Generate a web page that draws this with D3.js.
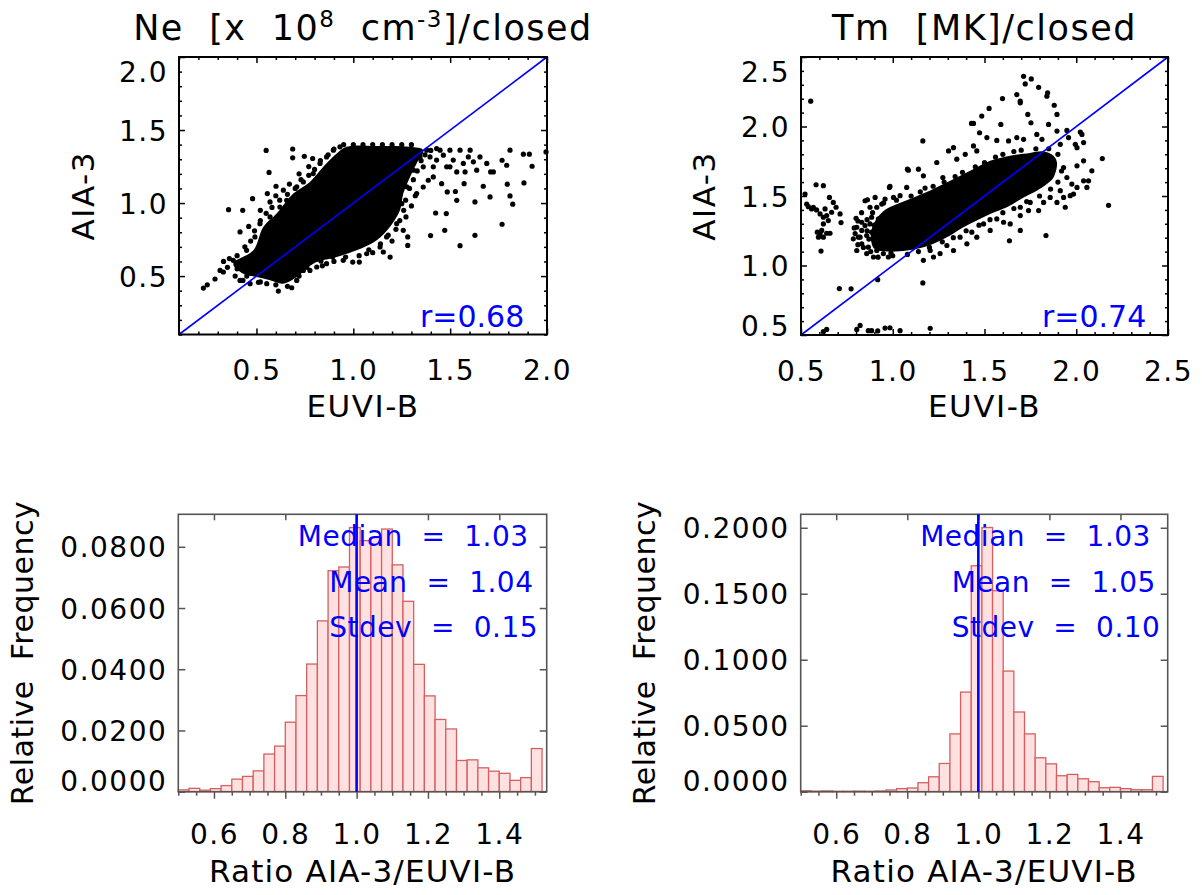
<!DOCTYPE html>
<html lang="en">
<head>
<meta charset="UTF-8">
<title>AIA-3 vs EUVI-B</title>
<script src="https://d3js.org/d3.v7.min.js"></script>
<style>
  body { margin: 0; background: #fff; }
  text { font-family: "DejaVu Sans", sans-serif; white-space: pre; }
</style>
</head>
<body>
<script>
// ---- data ----
// dense core of the Ne cloud (outline), EUVI-B vs AIA-3
const neCore = [[0.380,0.585],[0.484,0.676],[0.535,0.836],[0.604,0.928],[0.690,1.065],[0.776,1.145],[0.845,1.248],[0.914,1.339],[0.966,1.385],[1.121,1.390],[1.293,1.385],[1.361,1.362],[1.327,1.271],[1.293,1.179],[1.258,1.065],[1.241,0.950],[1.189,0.836],[1.121,0.745],[1.017,0.676],[0.914,0.630],[0.793,0.585],[0.708,0.493],[0.638,0.448],[0.570,0.471],[0.501,0.493],[0.432,0.516]];
// single points around it
const neDots = [[0.55,1.36],[0.687,1.37],[0.687,1.31],[0.747,1.32],[0.79,1.305],[0.565,1.21],[0.356,0.955],[0.429,0.95],[0.415,0.802],[0.556,1.065],[0.57,1.008],[0.601,1.115],[0.639,1.088],[0.48,1.03],
  [0.226,0.418],[0.246,0.44],[0.286,0.48],[0.312,0.539],[0.329,0.528],[0.38,0.608],[0.415,0.47],[0.467,0.448],[0.51,0.457],[0.553,0.448],[0.613,0.397],[0.682,0.42],[0.708,0.47],[0.776,0.539],[0.833,0.603],[0.893,0.63],[0.997,0.596],[1.031,0.596],[1.155,0.665],[1.19,0.63],[1.258,0.813],[1.281,0.768],[1.281,0.71],[1.272,0.905],[1.327,1.065],[1.361,1.11],
  [1.399,0.777],[1.425,0.932],[1.472,0.813],[1.48,0.928],[1.485,1.076],[1.527,1.079],[1.534,1.019],[1.551,0.708],[1.572,1.133],[1.628,0.779],[1.628,1.008],[1.671,1.115],[1.706,1.042],[1.709,1.213],[1.723,1.213],[1.768,0.855],[1.768,1.293],[1.792,1.259],[1.795,1.129],[1.809,1.049],[1.823,0.992],[1.809,1.362],[1.878,1.335],[1.909,1.335],[1.923,1.252],[1.881,1.138],[1.995,1.35],
  [1.413,1.179],[1.43,1.294],[1.448,1.362],[1.482,1.248],[1.516,1.294],[1.551,1.362],[1.568,1.271],[1.603,1.362],[1.62,1.282],[1.637,1.225],[1.654,1.316],[1.534,1.213],[1.577,1.213],[1.594,1.316],[1.396,1.316],[1.413,1.248],[1.465,1.328],[1.456,1.133],[1.499,1.248],[1.689,1.271],[1.379,1.362],[1.43,1.373],[1.499,1.362],[1.361,1.248],[1.387,1.156],
  [0.449,0.676],[0.492,0.768],[0.518,0.859],[0.57,0.905],[0.621,0.973],[0.656,1.019],[0.708,1.111],[0.742,1.145],[0.793,1.202],[0.828,1.271],[0.862,1.316],[0.897,1.362],[0.931,1.385],
  [0.742,0.539],[0.811,0.562],[0.862,0.585],[0.948,0.608],[1.069,0.653],[1.138,0.699],[1.172,0.768],[1.224,0.859],[1.25,0.996],[1.276,1.111],[1.31,1.225],[1.344,1.316],
  [0.40,0.64],[0.44,0.70],[0.47,0.74],[0.49,0.81],[0.52,0.88],[0.55,0.93],[0.58,0.97],[0.62,1.02],[0.66,1.06],[0.70,1.10],[0.73,1.16],[0.77,1.19],[0.80,1.23],[0.83,1.29],[0.87,1.33],[0.90,1.37],[0.95,1.40],[1.00,1.40],[1.05,1.40],[1.10,1.40],[1.15,1.40],[1.20,1.40],[1.25,1.40],[1.30,1.40],[0.60,1.05],[0.67,1.13],[0.72,1.20],[0.77,1.25],[0.52,0.95],[0.46,0.84],
  [0.40,0.55],[0.45,0.50],[0.52,0.46],[0.60,0.44],[0.66,0.43],[0.72,0.50],[0.76,0.56],[0.84,0.57],[0.90,0.60],[0.96,0.63],[1.03,0.64],[1.08,0.68],[1.14,0.72],[1.18,0.78],[1.22,0.82],[1.24,0.88],[1.26,0.95],[1.27,1.02],[1.29,1.10],[1.31,1.16],[1.33,1.22],[1.35,1.29],[1.37,1.33],[1.40,1.36],[1.10,0.66],[1.20,0.74],[1.30,0.98],[1.32,1.05],
  [0.35,0.56],[0.33,0.60],[0.36,0.62],[0.42,0.60],[0.39,0.50],[0.43,0.47]];

// dense core of the Tm cloud
const tmCore = [[0.90,1.12],[0.88,1.22],[0.90,1.31],[0.94,1.38],[0.985,1.42],[1.076,1.47],[1.204,1.54],[1.313,1.609],[1.422,1.681],[1.531,1.753],[1.640,1.790],[1.749,1.810],[1.822,1.820],[1.876,1.790],[1.895,1.740],[1.876,1.633],[1.840,1.586],[1.785,1.538],[1.713,1.490],[1.622,1.419],[1.531,1.371],[1.458,1.323],[1.385,1.275],[1.313,1.216],[1.240,1.168],[1.167,1.132],[1.076,1.108],[0.98,1.10]];
const tmDots = [[0.522,1.514],[0.531,1.442],[0.54,1.423],[0.558,1.407],[0.582,1.581],[0.622,1.574],[0.585,1.4],[0.604,1.371],[0.622,1.347],[0.64,1.359],[0.655,1.49],[0.676,1.454],[0.691,1.419],[0.713,1.371],[0.718,1.309],[0.589,1.24],[0.604,1.228],[0.622,1.204],[0.64,1.232],[0.658,1.232],[0.613,1.252],[0.595,1.204],[0.622,1.299],[0.649,1.323],[0.609,1.104],[0.553,2.182],[0.567,1.419],[0.631,1.407],[0.667,1.383],
  [0.918,0.898],[0.709,0.834],[0.773,0.832],[1.164,0.875],[0.64,0.54],[0.622,0.524],[0.822,0.569],[0.867,0.531],[0.885,0.531],[0.918,0.529],[0.958,0.55],[0.985,0.552],[1.04,0.531],[1.204,0.548],[0.804,0.54],
  [0.804,1.275],[0.813,1.204],[0.831,1.311],[0.849,1.466],[0.867,1.132],[0.876,1.419],[0.885,1.24],[0.904,1.49],[0.913,1.108],[0.922,1.335],[0.931,1.168],[0.949,1.085],[0.985,1.569],[0.976,1.061],[0.831,1.156],[0.858,1.085],[0.895,1.061],[0.804,1.108],[0.822,1.204],[0.785,1.192],[0.849,1.287],[0.885,1.347],[0.913,1.419],[0.94,1.442],[0.958,1.478],[1.004,1.49],[1.04,1.502],[1.076,1.562],[1.085,1.686],[1.14,1.693],[1.167,1.645],[1.067,1.428],[1.022,1.395],[0.876,1.299],[0.831,1.252],[0.858,1.216],[0.904,1.156],[0.94,1.275],
  [0.795,1.23],[0.81,1.15],[0.84,1.13],[0.87,1.19],[0.9,1.21],[0.92,1.26],[0.86,1.33],[0.83,1.38],[0.81,1.32],[0.89,1.38],[0.95,1.31],[0.97,1.2],[0.95,1.13],[0.99,1.09],[0.88,1.1],[0.79,1.27],[0.8,1.34],[0.86,1.25],[0.9,1.29],[0.93,1.22],
  [1.713,2.361],[1.755,2.342],[1.722,2.306],[1.795,2.282],[1.844,2.242],[1.84,2.218],[1.676,2.23],[1.695,2.182],[1.695,2.17],[1.598,2.201],[1.88,2.153],[1.485,2.075],[1.525,2.13],[1.429,2.022],[1.44,2.022],[1.589,2.015],[1.473,1.955],[1.567,1.9],[1.736,2.087],[1.895,2.087],[1.753,2.027],[1.849,2.015],[1.949,1.972],[2.022,1.96],[2.031,1.943],[1.895,1.967],[1.958,1.92],[1.913,1.872],[1.995,1.872],[2.04,1.884],[2.004,1.848],[2.04,1.753],[2.004,1.717],[2.085,1.681],[2.142,1.769],[2.176,1.433],[1.513,1.92],[1.631,1.896],[1.676,1.92],[1.713,1.908],[1.785,1.943],[1.813,1.908],[1.395,1.8],[1.458,1.824],[1.349,1.765],[1.304,1.824],[1.24,1.741],[1.331,1.848],[1.44,1.86],[1.273,1.633],[1.176,1.557],[1.08,1.693],[0.982,1.562],[0.862,1.473],[1.164,1.896],
  [1.931,1.705],[1.949,1.633],[1.976,1.586],[2.004,1.562],[2.04,1.609],[2.058,1.562],[2.067,1.609],[1.913,1.538],[1.931,1.49],[1.967,1.502],[1.985,1.514],[1.94,1.419],[1.895,1.454],[1.858,1.49],[1.795,1.395],[1.74,1.395],[1.695,1.359],[1.64,1.299],[1.604,1.311],[1.531,1.252],[1.458,1.204],[1.404,1.156],[1.331,1.108],[1.258,1.085],[1.222,1.061],[1.167,1.037],[1.204,1.108],[1.295,1.144],[1.367,1.204],[1.431,1.24],[1.495,1.299],[1.567,1.335],[1.695,1.252],[1.636,1.178],[1.835,1.216],[1.749,1.454],[1.822,1.454],[1.695,1.419],
  [0.95,1.45],[1.02,1.47],[1.10,1.50],[1.15,1.53],[1.22,1.57],[1.28,1.60],[1.34,1.64],[1.38,1.67],[1.45,1.71],[1.50,1.74],[1.56,1.78],[1.60,1.80],[1.66,1.82],[1.70,1.83],[1.78,1.84],[1.85,1.84],[1.90,1.80],
  [0.92,1.06],[1.00,1.07],[1.08,1.08],[1.14,1.10],[1.20,1.13],[1.27,1.17],[1.33,1.20],[1.40,1.25],[1.47,1.29],[1.53,1.33],[1.60,1.38],[1.66,1.41],[1.73,1.46],[1.80,1.50],[1.86,1.55],[1.90,1.60],[1.92,1.68]];

const neTicks = [0.5, 1.0, 1.5, 2.0];
const tmTicks = [0.5, 1.0, 1.5, 2.0, 2.5];
const rValues = ["r=0.68", "r=0.74"];

// histograms of the ratio AIA-3/EUVI-B
const binLeft = [0.50,0.53,0.56,0.59,0.62,0.65,0.68,0.71,0.74,0.77,0.80,0.83,0.86,0.89,0.92,0.95,0.98,1.01,1.04,1.07,1.10,1.13,1.16,1.19,1.22,1.25,1.28,1.31,1.34,1.37,1.40,1.43,1.46,1.49];
const neFreq = [0.0006,0.0011,0.0005,0.0010,0.0020,0.0041,0.0050,0.0068,0.0123,0.0149,0.0227,0.0314,0.0417,0.0558,0.0722,0.0734,0.0863,0.0820,0.0830,0.0858,0.0741,0.0622,0.0416,0.0313,0.0236,0.0205,0.0102,0.0104,0.0078,0.0067,0.0060,0.0037,0.0046,0.0141];
const tmFreq = [0.0007,0.0004,0.0006,0.0003,0.0003,0.0004,0.0003,0.0005,0.0013,0.0023,0.0028,0.0068,0.0113,0.0214,0.0438,0.0755,0.1712,0.2002,0.1523,0.0914,0.0604,0.0438,0.0257,0.0211,0.0121,0.0131,0.0098,0.0076,0.0030,0.0033,0.0023,0.0015,0.0015,0.0116];
const histXTicks = [0.6, 0.8, 1.0, 1.2, 1.4];
const neYTicks = [0, 0.02, 0.04, 0.06, 0.08];
const tmYTicks = [0, 0.05, 0.10, 0.15, 0.20];
const neStats = ["Median  =  1.03", "Mean  =  1.04", "Stdev  =  0.15"];
const tmStats = ["Median  =  1.03", "Mean  =  1.05", "Stdev  =  0.10"];
const refRatio = 1.0;

const svg = d3.select("body").append("svg")
    .attr("width", 1202)
    .attr("height", 895);

const BLUE = "#0000ff";

function styleText(sel, size, ls) {
    sel.attr("font-family", null).attr("font-size", size + "px")
       .attr("fill", "#000").style("letter-spacing", (ls || 0) + "px");
}

// one axis side, labels optional; size < 0 points into the box
function side(g, axisFn, scale, tr, values, size, color, fmt) {
    const a = axisFn(scale).tickValues(values).tickSize(size)
        .tickFormat(fmt || "");
    const ax = g.append("g").attr("transform", tr).call(a);
    ax.select(".domain").remove();
    ax.selectAll("line").attr("stroke", color).attr("stroke-width", 1.5);
    return ax;
}

function minorsOf(dom, step, majors) {
    const out = [];
    for (let v = Math.ceil(dom[0] / step - 1e-6) * step; v <= dom[1] + 1e-6; v += step) {
        if (!majors.some(m => Math.abs(m - v) < 1e-6)) out.push(+v.toFixed(3));
    }
    return out;
}

function scatterPanel(o) {
    const x = d3.scaleLinear().domain(o.dom).range([o.x0, o.x1]);
    const y = d3.scaleLinear().domain(o.dom).range([o.y1, o.y0]);
    const g = svg.append("g");

    g.append("path").datum(o.core)
        .attr("d", d3.line().x(d => x(d[0])).y(d => y(d[1])).curve(d3.curveCatmullRomClosed))
        .attr("fill", "#000");
    g.selectAll("circle").data(o.dots).join("circle")
        .attr("cx", d => x(d[0])).attr("cy", d => y(d[1]))
        .attr("r", 2.6).attr("fill", "#000");

    g.append("line")
        .attr("x1", x(o.dom[0])).attr("y1", y(o.dom[0]))
        .attr("x2", x(o.dom[1])).attr("y2", y(o.dom[1]))
        .attr("stroke", BLUE).attr("stroke-width", 1.6);

    g.append("rect").attr("x", o.x0).attr("y", o.y0)
        .attr("width", o.x1 - o.x0).attr("height", o.y1 - o.y0)
        .attr("fill", "none").attr("stroke", "#000").attr("stroke-width", 2);

    const minors = minorsOf(o.dom, 0.1, o.ticks);
    const f = d3.format(".1f");
    const bx = side(g, d3.axisBottom, x, `translate(0,${o.y1})`, o.ticks, -6, "#000", f);
    side(g, d3.axisBottom, x, `translate(0,${o.y1})`, minors, -3, "#000");
    side(g, d3.axisTop, x, `translate(0,${o.y0})`, o.ticks, -6, "#000");
    side(g, d3.axisTop, x, `translate(0,${o.y0})`, minors, -3, "#000");
    const ly = side(g, d3.axisLeft, y, `translate(${o.x0},0)`, o.ticks, -6, "#000", f);
    side(g, d3.axisLeft, y, `translate(${o.x0},0)`, minors, -3, "#000");
    side(g, d3.axisRight, y, `translate(${o.x1},0)`, o.ticks, -6, "#000");
    side(g, d3.axisRight, y, `translate(${o.x1},0)`, minors, -3, "#000");

    bx.selectAll("text").attr("y", 45.5).attr("dy", 0).call(styleText, 28, 1.5);
    ly.selectAll("text").attr("x", -11).attr("dy", "0.36em")
        .attr("y", d => d === o.dom[1] ? 14 : (d === o.dom[0] ? -10 : 0))
        .call(styleText, 28, 1.5);

    g.append("text").attr("x", o.x0 + 241).attr("y", o.y1 - 8)
        .attr("font-size", "30px").attr("fill", BLUE).text(o.r);

    // titles
    const t = g.append("text").attr("x", (o.x0 + o.x1) / 2).attr("y", 40)
        .attr("text-anchor", "middle").attr("font-size", "35px").style("letter-spacing", "1.5px");
    o.title(t);

    g.append("text").attr("x", (o.x0 + o.x1) / 2).attr("y", 417)
        .attr("text-anchor", "middle").attr("font-size", "31px").style("letter-spacing", "1.5px")
        .text("EUVI-B");
    g.append("text").attr("transform", `translate(${o.ylabX},${(o.y0 + o.y1) / 2}) rotate(-90)`)
        .attr("text-anchor", "middle").attr("font-size", "31px").style("letter-spacing", "1.5px")
        .text("AIA-3");
}

function histPanel(o) {
    const width = binLeft[1] - binLeft[0];
    const x = d3.scaleLinear().domain([0.5, 1.533]).range([o.x0, o.x1]);
    const y = d3.scaleLinear().domain([0, d3.max(o.freq) * 1.05]).range([o.y1, o.y0]);
    const g = svg.append("g");
    const rows = binLeft.map((b, i) => ({ b, v: o.freq[i] }));

    g.selectAll("rect.bar").data(rows).join("rect").attr("class", "bar")
        .attr("x", d => x(d.b)).attr("width", d => x(d.b + width) - x(d.b))
        .attr("y", d => y(d.v)).attr("height", d => y(0) - y(d.v))
        .attr("fill", "#ffe1e1").attr("stroke", "#d65f5f").attr("stroke-width", 1.3);

    const grey = "#555";
    const minors = minorsOf([0.5, 1.5], 0.05, histXTicks);
    const bx = side(g, d3.axisBottom, x, `translate(0,${o.y1})`, histXTicks, 7, grey, d3.format(".1f"));
    side(g, d3.axisBottom, x, `translate(0,${o.y1})`, minors, 4, grey);
    side(g, d3.axisTop, x, `translate(0,${o.y0})`, histXTicks, -6, grey);
    const ly = side(g, d3.axisLeft, y, `translate(${o.x0},0)`, o.yTicks, -7, grey, d3.format(".4f"));
    side(g, d3.axisRight, y, `translate(${o.x1},0)`, o.yTicks, -7, grey);

    g.append("rect").attr("x", o.x0).attr("y", o.y0)
        .attr("width", o.x1 - o.x0).attr("height", o.y1 - o.y0)
        .attr("fill", "none").attr("stroke", grey).attr("stroke-width", 1.6);

    g.append("line").attr("x1", x(refRatio)).attr("x2", x(refRatio))
        .attr("y1", o.y1).attr("y2", o.y0)
        .attr("stroke", BLUE).attr("stroke-width", 2.6);

    bx.selectAll("text").attr("y", 52.3).attr("dy", 0).call(styleText, 28, 1.5);
    ly.selectAll("text").attr("x", -11).attr("dy", "0.36em")
        .attr("y", d => d === 0 ? -11.5 : 0)
        .call(styleText, 28, 1.5);

    const offs = [[119.5, 31.4], [151, 77.4], [151, 122.4]];
    g.selectAll("text.stat").data(o.stats).join("text").attr("class", "stat")
        .attr("x", (d, i) => o.x0 + offs[i][0]).attr("y", (d, i) => o.y0 + offs[i][1])
        .attr("font-size", "28px").attr("fill", BLUE).style("letter-spacing", "0.5px")
        .text(d => d);

    g.append("text").attr("x", (o.x0 + o.x1) / 2).attr("y", 882)
        .attr("text-anchor", "middle").attr("font-size", "31px").style("letter-spacing", "1.2px")
        .text("Ratio AIA-3/EUVI-B");
    g.append("text").attr("transform", `translate(${o.ylabX},${(o.y0 + o.y1) / 2}) rotate(-90)`)
        .attr("text-anchor", "middle").attr("font-size", "30px").style("letter-spacing", "0.5px")
        .text("Relative  Frequency");
}

scatterPanel({
    x0: 179, x1: 547, y0: 57, y1: 334.5, dom: [0.1, 2.0], ticks: neTicks,
    core: neCore, dots: neDots, r: rValues[0], ylabX: 94,
    title: t => {
        t.append("tspan").text("Ne  [x  10");
        t.append("tspan").attr("dy", -13).attr("font-size", "23px").text("8");
        t.append("tspan").attr("dy", 13).text("  cm");
        t.append("tspan").attr("dy", -13).attr("font-size", "23px").text("-3");
        t.append("tspan").attr("dy", 13).text("]/closed");
    }
});

scatterPanel({
    x0: 801, x1: 1168, y0: 57, y1: 335, dom: [0.5, 2.5], ticks: tmTicks,
    core: tmCore, dots: tmDots, r: rValues[1], ylabX: 715,
    title: t => t.text("Tm  [MK]/closed")
});

histPanel({ x0: 178.3, x1: 546.7, y0: 514.3, y1: 791.7, freq: neFreq, yTicks: neYTicks, stats: neStats, ylabX: 33 });
histPanel({ x0: 800.7, x1: 1167.7, y0: 514.3, y1: 791.7, freq: tmFreq, yTicks: tmYTicks, stats: tmStats, ylabX: 655 });
</script>
</body>
</html>
